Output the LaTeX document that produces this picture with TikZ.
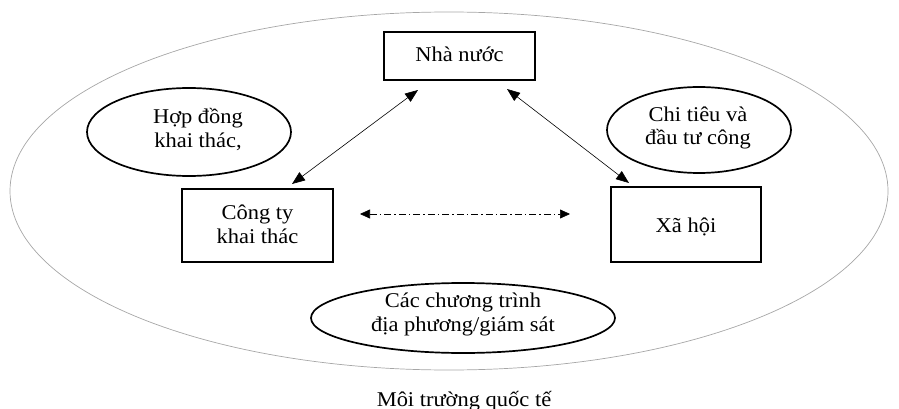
\documentclass[tikz,border=0pt]{standalone}
\usepackage{fontspec}
\setmainfont[FakeStretch=1.07]{Liberation Serif}
\usetikzlibrary{arrows.meta}
\begin{document}
\begin{tikzpicture}[x=1pt,y=-1pt,
  every node/.style={font=\fontsize{21}{24}\selectfont, align=center, inner sep=0pt},
  label text/.style={anchor=base},
  actor/.style={draw, line width=1.7pt},
  topic/.style={draw, line width=1.7pt},
  link/.style={line width=0.6pt, {Triangle[length=13pt,width=10pt]}-{Triangle[length=13pt,width=10pt]}},
  dashlink/.style={line width=0.6pt, dash pattern=on 7pt off 3pt on 1.5pt off 3pt,
    {Triangle[length=10pt,width=9pt]}-{Triangle[length=10pt,width=9pt]}}]
  \useasboundingbox (0,0) rectangle (899,409);

  % outer environment
  \draw[gray!70, line width=0.7pt] (449,191) ellipse [x radius=439, y radius=179];
  \node[label text] (env) at (464,406) {Môi trường quốc tế};

  % actors (base anchor sits on the last line's baseline)
  \draw[actor] (384,32) rectangle (535,80);
  \node[label text] (state) at (459.5,62) {Nhà nước};
  \draw[actor] (182,189) rectangle (333,262);
  \node[label text] (firm) at (257.5,243) {Công ty\\khai thác};
  \draw[actor] (611,187) rectangle (761,262);
  \node[label text] (society) at (686,232) {Xã hội};

  % topics
  \draw[topic] (189,132) ellipse [x radius=102, y radius=44];
  \node[label text] (contract) at (198,147) {Hợp đồng\\khai thác,};
  \draw[topic] (699,130) ellipse [x radius=92, y radius=43];
  \node[label text] (spend) at (698,145) {Chi tiêu và\\đầu tư công};
  \draw[topic] (463,318) ellipse [x radius=152, y radius=35];
  \node[label text] (local) at (463,331) {Các chương trình\\địa phương/giám sát};

  % connector end points
  \coordinate (s1) at (418,90);
  \coordinate (f1) at (292,184);
  \coordinate (s2) at (507,89);
  \coordinate (x2) at (629,183);
  \coordinate (f3) at (360,214);
  \coordinate (x3) at (570,214);

  \draw[link] (s1) -- (f1);
  \draw[link] (s2) -- (x2);
  \draw[dashlink] (f3) -- (x3);
\end{tikzpicture}
\end{document}
